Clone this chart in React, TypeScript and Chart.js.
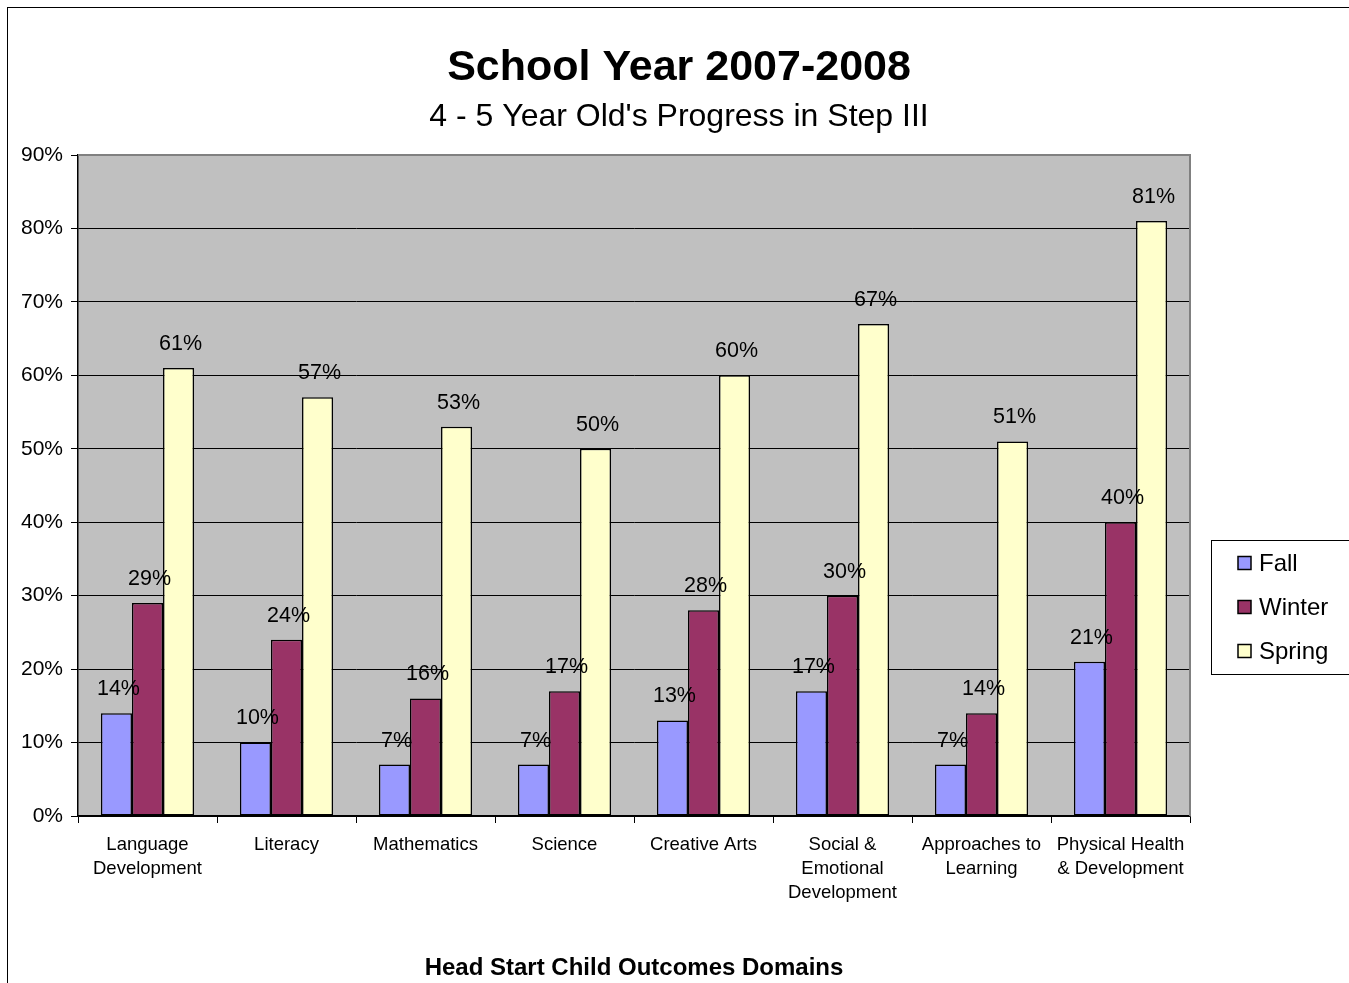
import React, { useEffect, useRef } from "react";
import { Chart, registerables } from "chart.js";

Chart.register(...registerables);

const categories: (string | string[])[] = [
  ["Language", "Development"],
  "Literacy",
  "Mathematics",
  "Science",
  "Creative Arts",
  ["Social &", "Emotional", "Development"],
  ["Approaches to", "Learning"],
  ["Physical Health", "& Development"],
];
const fallValues = [14, 10, 7, 7, 13, 17, 7, 21];
const winterValues = [29, 24, 16, 17, 28, 30, 14, 40];
const springValues = [61, 57, 53, 50, 60, 67, 51, 81];
const seriesNames = ["Fall", "Winter", "Spring"];
const seriesColors = ["#9999FF", "#993366", "#FFFFCC"];

const titleText = "School Year 2007-2008";
const subtitleText = "4 - 5 Year Old's Progress in Step III";
const xAxisTitle = "Head Start Child Outcomes Domains";

const FONT = "'Liberation Sans', Arial, sans-serif";

const decorPlugin = {
  id: "decor",
  beforeDraw(chart: any) {
    const { ctx, chartArea } = chart;
    ctx.save();
    ctx.fillStyle = "#FFFFFF";
    ctx.fillRect(0, 0, chart.width, chart.height);
    ctx.strokeStyle = "#000";
    ctx.lineWidth = 1;
    ctx.strokeRect(7.5, 7.5, chart.width + 20, chart.height + 20);
    ctx.fillStyle = "#C0C0C0";
    ctx.fillRect(chartArea.left, chartArea.top, chartArea.right - chartArea.left, chartArea.bottom - chartArea.top);
    ctx.restore();
  },
  afterDraw(chart: any) {
    const { ctx, chartArea } = chart;
    ctx.save();
    ctx.strokeStyle = "#808080";
    ctx.lineWidth = 2;
    ctx.beginPath();
    ctx.moveTo(chartArea.left, chartArea.top);
    ctx.lineTo(chartArea.right, chartArea.top);
    ctx.lineTo(chartArea.right, chartArea.bottom);
    ctx.stroke();

    ctx.fillStyle = "#000";
    ctx.textAlign = "center";
    ctx.textBaseline = "middle";
    ctx.font = `bold 43px ${FONT}`;
    ctx.fillText(titleText, 679, 68);
    ctx.font = `32px ${FONT}`;
    ctx.fillText(subtitleText, 679, 117);
    ctx.font = `bold 24px ${FONT}`;
    ctx.fillText(xAxisTitle, (chartArea.left + chartArea.right) / 2, 968);

    ctx.font = `21.5px ${FONT}`;
    ctx.textBaseline = "middle";
    chart.data.datasets.forEach((ds: any, di: number) => {
      const meta = chart.getDatasetMeta(di);
      meta.data.forEach((bar: any, i: number) => {
        ctx.fillText(ds.data[i] + "%", bar.x + 2, bar.y - 24);
      });
    });

    const lx = 1211.5, ly = 540.5, lw = 200, lh = 134;
    ctx.fillStyle = "#FFFFFF";
    ctx.fillRect(lx, ly, lw, lh);
    ctx.strokeStyle = "#000";
    ctx.lineWidth = 1;
    ctx.strokeRect(lx, ly, lw, lh);
    ctx.font = `24px ${FONT}`;
    ctx.textAlign = "left";
    chart.data.datasets.forEach((ds: any, di: number) => {
      const cy = 563 + di * 44;
      ctx.fillStyle = ds.backgroundColor;
      ctx.fillRect(1238, cy - 6.5, 13, 13);
      ctx.strokeStyle = "#000";
      ctx.lineWidth = 1.5;
      ctx.strokeRect(1238, cy - 6.5, 13, 13);
      ctx.fillStyle = "#000";
      ctx.fillText(ds.label, 1259, cy + 1);
    });
    ctx.restore();
  },
};

export default function App() {
  const ref = useRef<HTMLCanvasElement>(null);
  useEffect(() => {
    document.body.style.margin = "0";
    const canvas = ref.current!;
    const values = [fallValues, winterValues, springValues];
    const chart = new Chart(canvas, {
      type: "bar",
      data: {
        labels: categories,
        datasets: values.map((v, i) => ({
          label: seriesNames[i],
          data: v,
          backgroundColor: seriesColors[i],
          borderColor: "#000",
          borderWidth: 1.5,
          borderSkipped: false,
          categoryPercentage: 0.67,
          barPercentage: 1,
        })),
      },
      options: {
        responsive: false,
        animation: false,
        devicePixelRatio: 1,
        layout: { padding: { top: 155, right: 159, left: 0, bottom: 0 } },
        plugins: { legend: { display: false }, title: { display: false }, tooltip: { enabled: false } },
        scales: {
          y: {
            min: 0,
            max: 90,
            ticks: {
              stepSize: 10,
              callback: (v: any) => v + "%",
              color: "#000",
              font: { family: FONT, size: 21 },
              padding: 8,
            },
            grid: { color: "#000", lineWidth: 1, tickLength: 7, tickColor: "#000" },
            border: { color: "#000", width: 1.5 },
            afterFit: (s: any) => { s.width = 78; },
          },
          x: {
            offset: true,
            ticks: {
              color: "#000",
              font: { family: FONT, size: 18.5, lineHeight: 1.3 },
              padding: 10,
              maxRotation: 0,
              autoSkip: false,
            },
            grid: { offset: true, drawOnChartArea: false, tickLength: 7, color: "#000", tickColor: "#000" },
            border: { color: "#000", width: 1.5 },
            afterFit: (s: any) => { s.height = 167; },
          },
        },
      },
      plugins: [decorPlugin],
    });
    return () => chart.destroy();
  }, []);
  return <canvas ref={ref} width={1349} height={983} style={{ display: "block" }} />;
}
